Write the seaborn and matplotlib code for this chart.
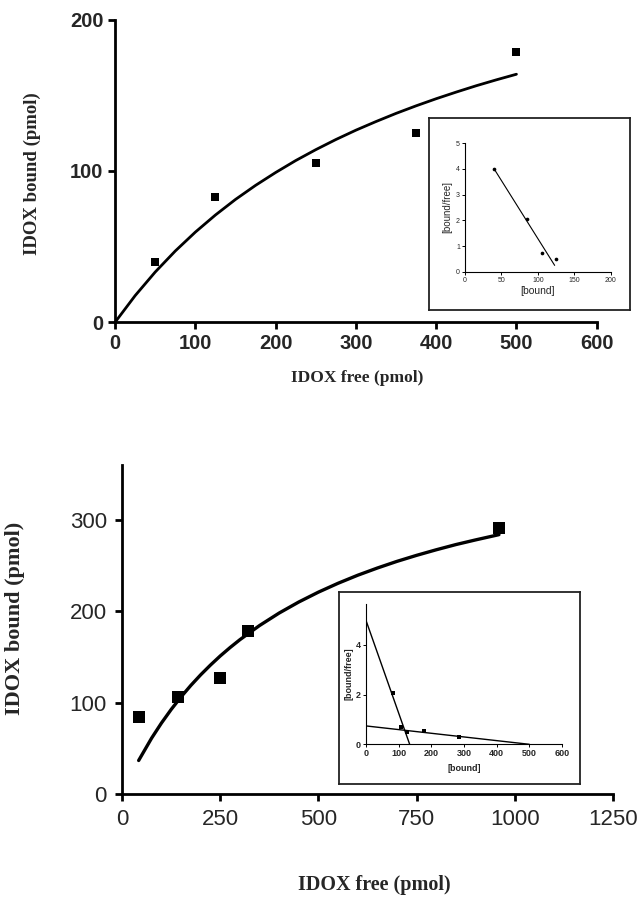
import matplotlib
matplotlib.use("Agg")
import matplotlib.pyplot as plt
import pandas as pd
import seaborn as sns

# upper panel: binding data + fitted saturation curve
top_free = [50, 125, 250, 375, 500]
top_bound = [40, 83, 105, 125, 179]
top_fit_free = [0, 25, 50, 75, 100, 125, 150, 175, 200, 225, 250, 275, 300,
                325, 350, 375, 400, 425, 450, 475, 500]
top_fit_bound = [0, 17.6, 33.2, 47.1, 59.6, 70.9, 81.2, 90.5, 99.0, 106.9,
                 114.1, 120.8, 127.0, 132.7, 138.1, 143.1, 147.8, 152.2,
                 156.4, 160.3, 164.0]

# upper inset: Scatchard plot
top_sc_bound = [40, 85, 105, 125]
top_sc_ratio = [4.0, 2.05, 0.72, 0.48]
top_sc_line_x = [40, 123]
top_sc_line_y = [4.0, 0.25]

# lower panel
bot_free = [42, 143, 249, 320, 960]
bot_bound = [84, 106, 127, 178, 291]
bot_fit_free = [42, 75, 100, 125, 150, 175, 200, 225, 250, 275, 300, 350, 400,
                450, 500, 550, 600, 650, 700, 750, 800, 850, 900, 960]
bot_fit_bound = [36.5, 61.0, 77.5, 92.5, 106.2, 118.8, 130.4, 141.1, 151.1,
                 160.3, 168.9, 184.4, 198.1, 210.2, 221.0, 230.7, 239.5,
                 247.4, 254.7, 261.3, 267.4, 273.1, 278.2, 284.0]

# lower inset: two-site Scatchard plot
bot_sc_bound = [82, 106, 127, 179, 285]
bot_sc_ratio = [2.05, 0.71, 0.48, 0.54, 0.31]
steep_x = [0, 134]
steep_y = [5.0, 0.0]
shallow_x = [0, 500]
shallow_y = [0.74, 0.0]

sns.set_style("ticks")
plt.rcParams['font.family'] = ['Liberation Sans', 'DejaVu Sans']

fig = plt.figure(figsize=(6.43, 9), dpi=100)

label_font = dict(family='Liberation Serif', weight='bold')


def style_main(ax, lw):
    sns.despine(ax=ax)
    for s in ['left', 'bottom']:
        ax.spines[s].set_linewidth(lw)
        ax.spines[s].set_color('black')
    ax.tick_params(width=lw, length=5, color='black')


def inset_frame(rect):
    fr = fig.add_axes(rect)
    fr.set_xticks([])
    fr.set_yticks([])
    fr.set_facecolor('white')
    for s in fr.spines.values():
        s.set_visible(True)
        s.set_linewidth(1.3)
        s.set_color('#222222')
    return fr


def style_inset(ax):
    sns.despine(ax=ax)
    for s in ['left', 'bottom']:
        ax.spines[s].set_linewidth(0.8)
        ax.spines[s].set_color('black')
    ax.tick_params(width=0.7, length=2, pad=1.5, labelsize=5.5, color='black')
    ax.set_facecolor('none')


# ---------------- upper panel ----------------
ax1 = fig.add_axes([0.179, 0.642, 0.749, 0.336])
sns.lineplot(x=top_fit_free, y=top_fit_bound, ax=ax1, color='black', lw=2.0)
sns.scatterplot(x=top_free, y=top_bound, ax=ax1, color='black', marker='s',
                s=30, linewidth=0)
ax1.set_xlim(0, 600)
ax1.set_ylim(0, 200)
ax1.set_xticks(range(0, 601, 100))
ax1.set_yticks([0, 100, 200])
style_main(ax1, 2.0)
for lab in ax1.get_xticklabels() + ax1.get_yticklabels():
    lab.set_fontsize(14.5)
    lab.set_fontweight('bold')
ax1.set_xlabel("IDOX free (pmol)", fontsize=12.5, **label_font)
ax1.set_ylabel("IDOX bound (pmol)", fontsize=13.5, **label_font)
ax1.xaxis.set_label_coords(0.503, -0.159)
ax1.yaxis.set_label_coords(-0.154, 0.49)

inset_frame([0.667, 0.656, 0.313, 0.213])
ax1i = fig.add_axes([0.723, 0.698, 0.227, 0.143])
sns.lineplot(x=top_sc_line_x, y=top_sc_line_y, ax=ax1i, color='black', lw=0.8)
sns.scatterplot(x=top_sc_bound, y=top_sc_ratio, ax=ax1i, color='black',
                s=7, linewidth=0)
ax1i.set_xlim(0, 200)
ax1i.set_ylim(0, 5)
ax1i.set_xticks([0, 50, 100, 150, 200])
ax1i.set_yticks([0, 1, 2, 3, 4, 5])
style_inset(ax1i)
ax1i.tick_params(labelsize=5)
ax1i.set_xlabel("[bound]", fontsize=7.5, labelpad=2)
ax1i.set_ylabel("[bound/free]", fontsize=7, labelpad=3)

# ---------------- lower panel ----------------
ax2 = fig.add_axes([0.190, 0.118, 0.763, 0.365])
sns.lineplot(x=bot_fit_free, y=bot_fit_bound, ax=ax2, color='black', lw=2.4)
sns.scatterplot(x=bot_free, y=bot_bound, ax=ax2, color='black', marker='s',
                s=70, linewidth=0)
ax2.set_xlim(0, 1250)
ax2.set_ylim(0, 360)
ax2.set_xticks(range(0, 1251, 250))
ax2.set_yticks([0, 100, 200, 300])
style_main(ax2, 2.0)
ax2.tick_params(labelsize=16, pad=6)
ax2.set_xlabel("IDOX free (pmol)", fontsize=14.5, **label_font)
ax2.set_ylabel("IDOX bound (pmol)", fontsize=16, **label_font)
ax2.xaxis.set_label_coords(0.513, -0.246)
ax2.yaxis.set_label_coords(-0.198, 0.535)

inset_frame([0.527, 0.129, 0.375, 0.213])
ax2i = fig.add_axes([0.569, 0.173, 0.305, 0.156])
sns.lineplot(x=steep_x, y=steep_y, ax=ax2i, color='black', lw=1.0)
sns.lineplot(x=shallow_x, y=shallow_y, ax=ax2i, color='black', lw=1.0)
sns.scatterplot(x=bot_sc_bound, y=bot_sc_ratio, ax=ax2i, color='black',
                marker='s', s=10, linewidth=0)
ax2i.set_xlim(0, 600)
ax2i.set_ylim(0, 5.65)
ax2i.set_xticks(range(0, 601, 100))
ax2i.set_yticks([0, 2, 4])
style_inset(ax2i)
ax2i.tick_params(labelsize=6.5)
for lab in ax2i.get_xticklabels() + ax2i.get_yticklabels():
    lab.set_fontweight('bold')
ax2i.set_xlabel("[bound]", fontsize=6.5, fontweight='bold', labelpad=4)
ax2i.set_ylabel("[bound/free]", fontsize=6.5, fontweight='bold', labelpad=2)

fig.savefig("out.png", dpi=100, facecolor='white')
